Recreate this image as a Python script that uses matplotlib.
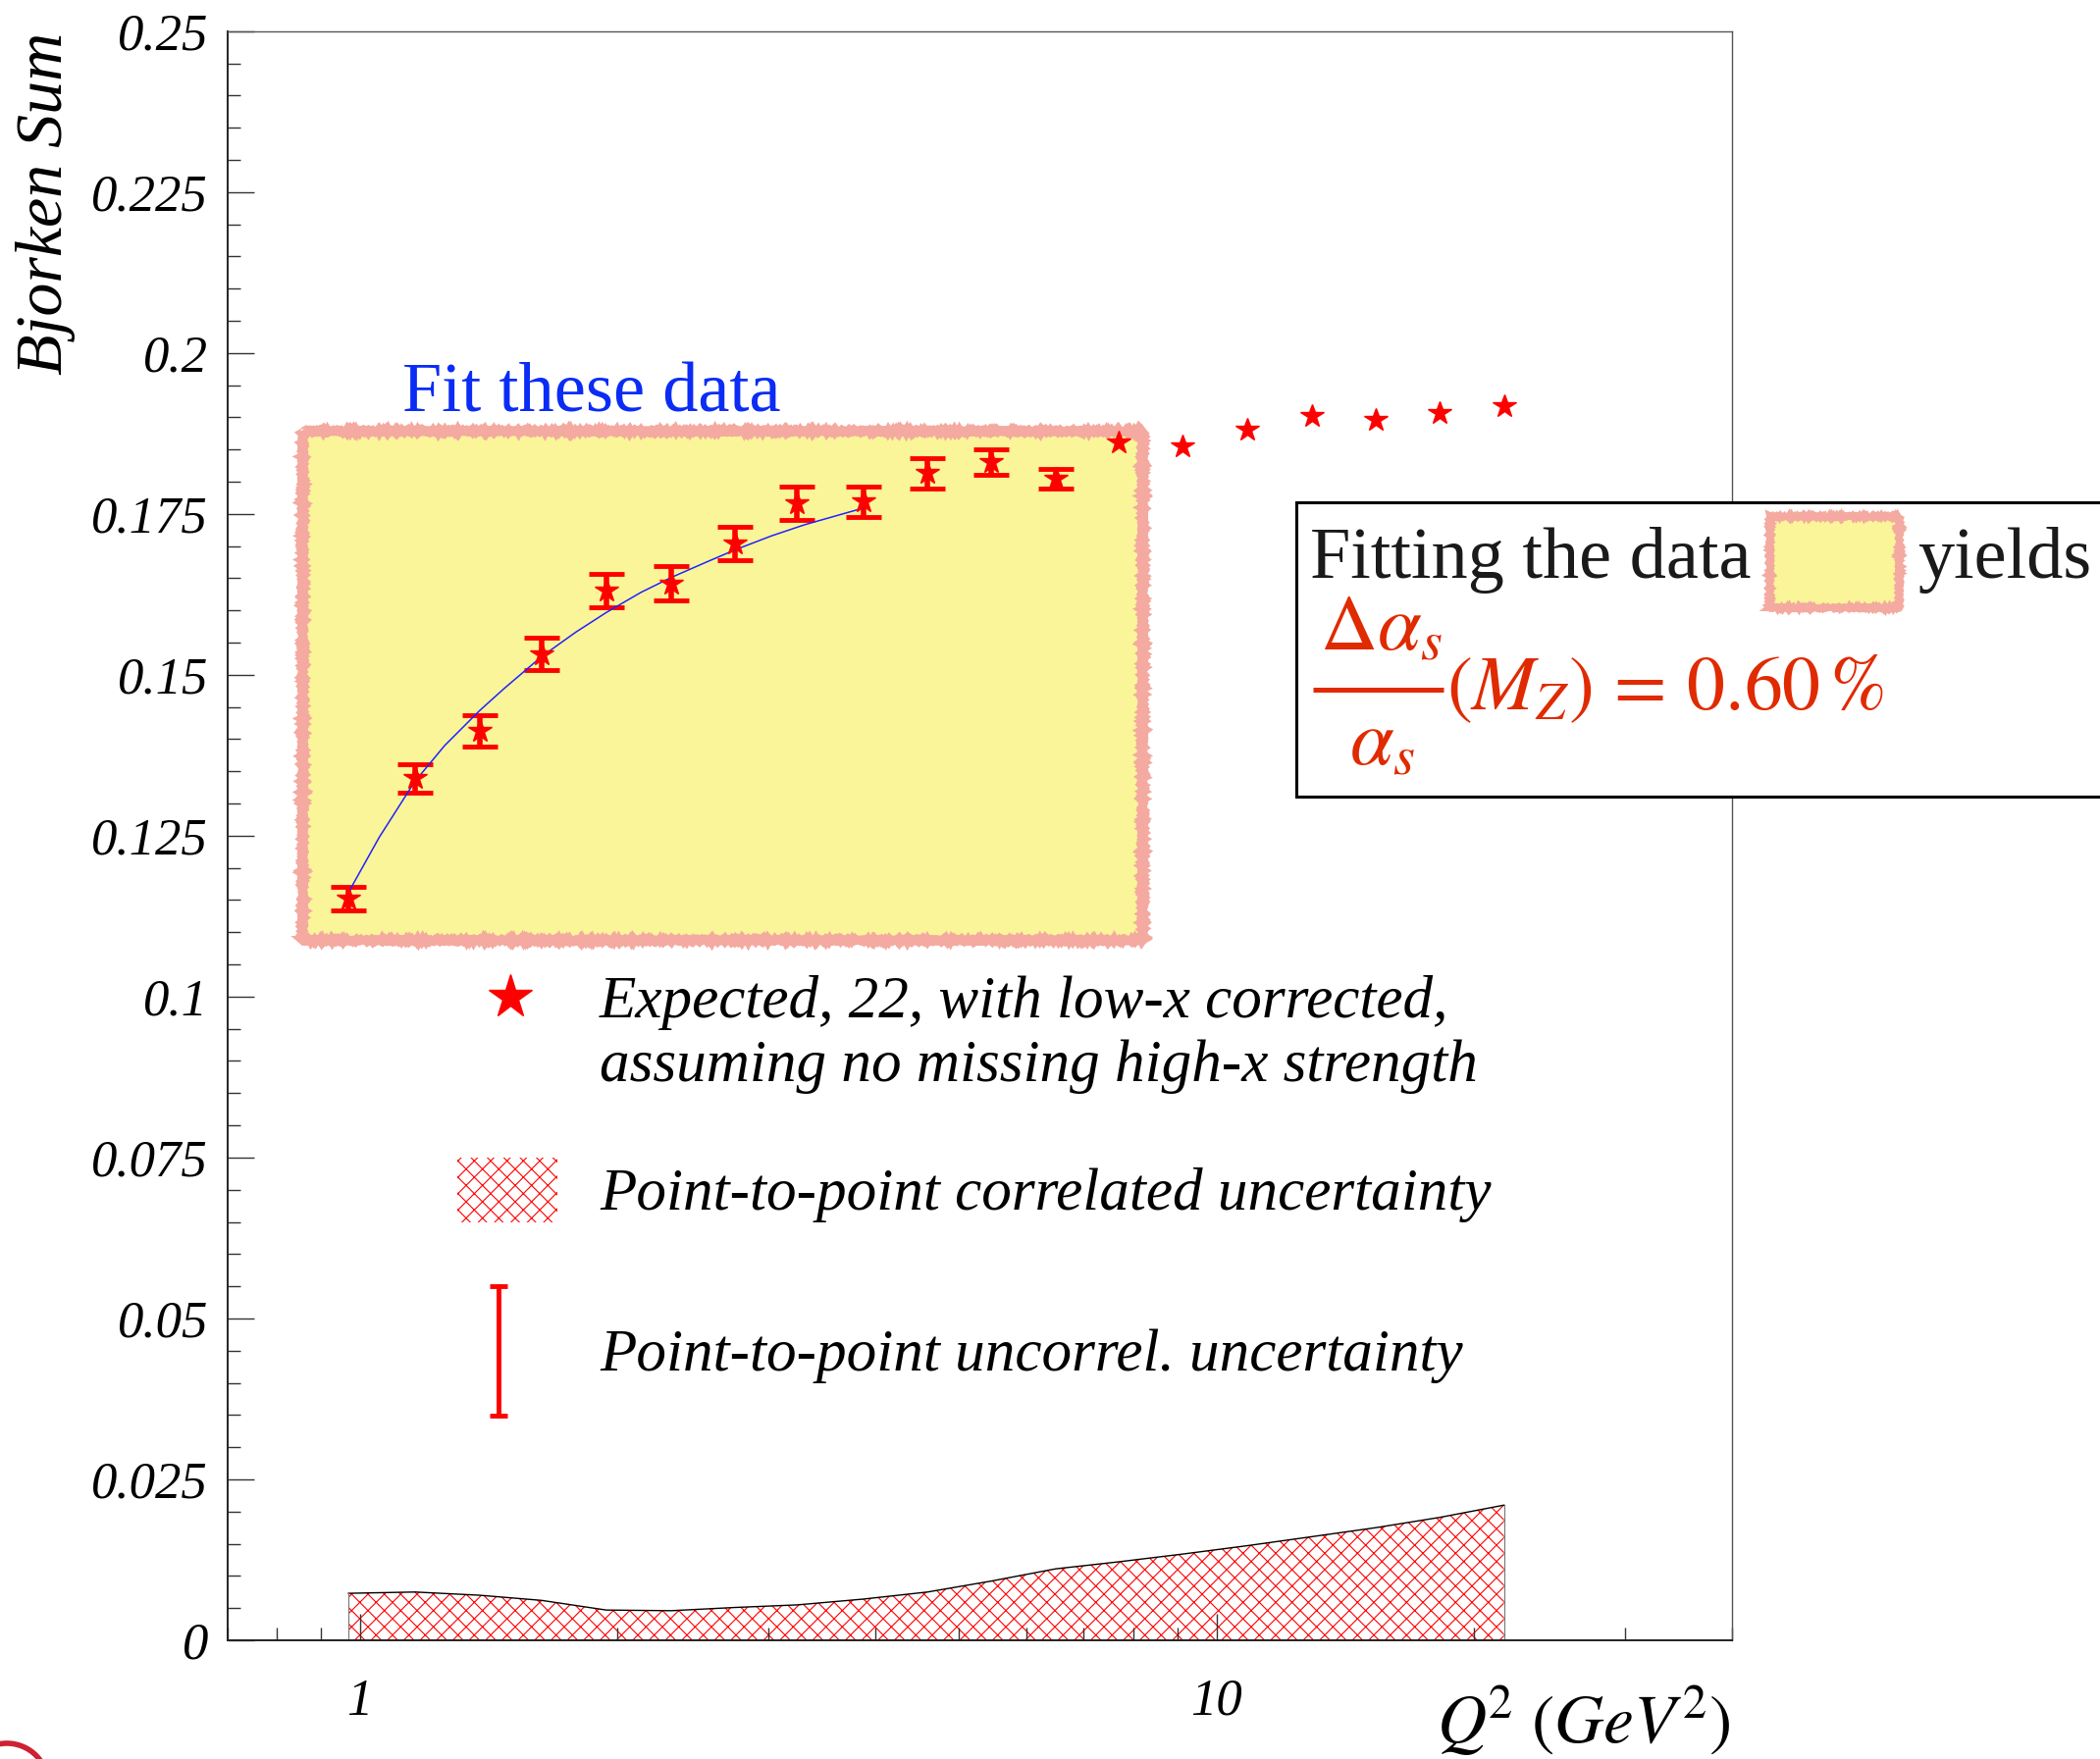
import numpy as np
import matplotlib
matplotlib.use('Agg')
import matplotlib.pyplot as plt
from matplotlib.patches import Rectangle, Arc
from matplotlib.lines import Line2D
from matplotlib.ticker import LogLocator, NullFormatter, FixedLocator

# Q^2 (GeV^2) and expected Bjorken sum
q2 = [0.97, 1.16, 1.38, 1.63, 1.94, 2.31, 2.74, 3.24, 3.87, 4.60, 5.46, 6.49,
      7.70, 9.14, 10.87, 12.93, 15.36, 18.24, 21.67]
bj_sum = [0.1152, 0.1339, 0.1413, 0.1532, 0.1631, 0.1642, 0.1704, 0.1767, 0.1769,
          0.1813, 0.1830, 0.1805, 0.1861, 0.1855, 0.1880, 0.1902, 0.1896, 0.1906, 0.1918]
# point-to-point uncorrelated errors (first 12 points only)
uncorr_err = [0.0018, 0.0022, 0.0024, 0.0025, 0.0026, 0.0027, 0.0026, 0.0026,
              0.0024, 0.0023, 0.0020, 0.0015]
# point-to-point correlated uncertainty band
corr_err = [0.0073, 0.0075, 0.0070, 0.0062, 0.0047, 0.0046, 0.0051, 0.0055, 0.0064,
            0.0075, 0.0092, 0.0111, 0.0122, 0.0134, 0.0147, 0.0161, 0.0175, 0.0191, 0.0210]
# fit curve
fit_q2 = [0.970, 1.054, 1.159, 1.256, 1.379, 1.472, 1.629, 1.786, 1.941, 2.129,
          2.308, 2.538, 2.741, 3.027, 3.304, 3.871]
fit_sum = [0.1162, 0.1248, 0.1334, 0.1390, 0.1444, 0.1478, 0.1528, 0.1566, 0.1597,
           0.1628, 0.1651, 0.1675, 0.1694, 0.1716, 0.1733, 0.1759]
# region of the fit
fit_box_q2 = [0.8575, 8.20]
fit_box_sum = [0.1088, 0.1879]

yticks = [0, 0.025, 0.05, 0.075, 0.1, 0.125, 0.15, 0.175, 0.2, 0.225, 0.25]
ytick_labels = ['0', '0.025', '0.05', '0.075', '0.1', '0.125', '0.15', '0.175', '0.2', '0.225', '0.25']
xticks = [1, 10]
xtick_labels = ['1', '10']

plt.rcParams['font.family'] = ['Liberation Serif', 'DejaVu Serif']
plt.rcParams['mathtext.fontset'] = 'stix'
plt.rcParams['hatch.linewidth'] = 0.8

W, H = 2140, 1793
fig = plt.figure(figsize=(W / 100, H / 100), dpi=100)


def P(x, y):
    # pixel position -> figure fraction
    return x / W, 1 - y / H


ax = fig.add_axes([231.5 / W, 1 - 1672 / H, (1765 - 231.5) / W, (1672 - 31.7) / H])
ax.set_xscale('log')
ax.set_xlim(0.7, 40)
ax.set_ylim(0, 0.25)

red = '#ff0000'
yellow = '#faf598'
salmon = '#f4aaa0'
formula_red = '#e02a00'

# fit region box
box = Rectangle((fit_box_q2[0], fit_box_sum[0]), fit_box_q2[1] - fit_box_q2[0],
                fit_box_sum[1] - fit_box_sum[0], facecolor=yellow, edgecolor=salmon,
                linewidth=6.5, zorder=0.5)
box.set_sketch_params(scale=1.0, length=3, randomness=2)
ax.add_patch(box)
ax.text(1.865, 0.19085, 'Fit these data', color='#0a2cf5', fontsize=52,
        ha='center', va='baseline')

# correlated band
ax.fill_between(q2, 0, corr_err, facecolor='white', edgecolor=red, hatch='xx',
                linewidth=0, zorder=1)
ax.plot(q2, corr_err, color='black', lw=1.0, zorder=1.5)
ax.plot([q2[0], q2[0]], [0, corr_err[0]], color='#777777', lw=0.8, zorder=1.5)
ax.plot([q2[-1], q2[-1]], [0, corr_err[-1]], color='#777777', lw=0.8, zorder=1.5)

# data
n_err = len(uncorr_err)
ax.errorbar(q2[:n_err], bj_sum[:n_err], yerr=uncorr_err, fmt='none', ecolor=red,
            elinewidth=4, capsize=13, capthick=3.5, zorder=3)
ax.plot(q2, bj_sum, linestyle='none', marker='*', ms=17.5, color=red, mec=red, zorder=4)

# fit curve
ax.plot(fit_q2, fit_sum, color='#2222ff', lw=1.1, zorder=3.5)

# axes styling
ax.yaxis.set_major_locator(FixedLocator(yticks))
ax.set_yticklabels(ytick_labels)
ax.yaxis.set_minor_locator(FixedLocator(np.arange(0, 0.2501, 0.005)))
ax.xaxis.set_major_locator(FixedLocator(xticks))
ax.set_xticklabels(xtick_labels)
ax.xaxis.set_minor_locator(LogLocator(base=10, subs=np.arange(2, 10) / 1.0, numticks=20))
ax.xaxis.set_minor_formatter(NullFormatter())
ax.tick_params(which='both', direction='in', top=False, right=False, color='#333333')
ax.tick_params(which='major', length=19.4, width=1.0)
ax.tick_params(which='minor', length=9.4, width=1.0)
ax.tick_params(axis='y', which='major', pad=14, labelsize=38)
ax.tick_params(axis='x', which='major', pad=28, labelsize=38)
for lab in ax.get_xticklabels() + ax.get_yticklabels():
    lab.set_fontstyle('italic')
for side in ['left', 'bottom']:
    ax.spines[side].set_linewidth(1.4)
    ax.spines[side].set_color('#222222')
for side in ['top', 'right']:
    ax.spines[side].set_linewidth(1.0)
    ax.spines[side].set_color('#555555')

fig.text(*P(46.7, 207), 'Bjorken Sum', rotation=90, fontsize=49, fontstyle='italic',
         ha='center', va='center')
fig.text(*P(1764, 1717), r'$Q^{\!2}\ (GeV^{2})$', fontsize=50, ha='right', va='top')

# legend inside the plot
ax.plot(*P(520, 1016), marker='*', ms=33, color=red, transform=fig.transFigure,
        clip_on=False, zorder=5)
fig.text(*P(611, 1036.7), 'Expected, 22, with low-x corrected,', fontsize=44,
         fontstyle='italic', va='baseline')
fig.text(*P(611, 1101.7), 'assuming no missing high-x strength', fontsize=44,
         fontstyle='italic', va='baseline')
leg_hatch = Rectangle(P(466, 1245.7), 102 / W, 65.7 / H, transform=fig.transFigure,
                      facecolor='white', edgecolor=red, hatch='xx', linewidth=0, zorder=5)
fig.patches.append(leg_hatch)
fig.text(*P(611, 1233.3), 'Point-to-point correlated uncertainty', fontsize=44,
         fontstyle='italic', va='baseline')
x0, y0 = P(507.7, 1311)
x1, y1 = P(507.7, 1443)
fig.add_artist(Line2D([x0, x1], [y0, y1], color=red, lw=3.5, transform=fig.transFigure))
fig.add_artist(Line2D([x0, x1], [y0, y1], color=red, lw=0, marker='_', ms=13, mew=3.5,
                      transform=fig.transFigure))
fig.text(*P(611, 1396.7), 'Point-to-point uncorrel. uncertainty', fontsize=44,
         fontstyle='italic', va='baseline')

# result box on the right
res_box = Rectangle(P(1321.4, 811.7), 1.0, (811.7 - 512) / H, transform=fig.transFigure,
                    facecolor='white', edgecolor='black', linewidth=2.2, zorder=5)
fig.patches.append(res_box)
fig.text(*P(1334.8, 589), 'Fitting the data', fontsize=53.5, color='#1a1a1a',
         va='baseline', zorder=6)
sw = Rectangle(P(1803.5, 619.3), (1934.7 - 1803.5) / W, (619.3 - 525.7) / H,
               transform=fig.transFigure, facecolor=yellow, edgecolor=salmon,
               linewidth=5, zorder=6)
sw.set_sketch_params(scale=1.0, length=3, randomness=2)
fig.patches.append(sw)
fig.text(*P(1954.5, 589), 'yields', fontsize=53.5, color='#1a1a1a', va='baseline', zorder=6)

# delta alpha_s / alpha_s (M_Z) = 0.60 %
fig.text(*P(1345, 662.7), r'$\Delta\alpha_s$', fontsize=58, color=formula_red,
         va='baseline', zorder=6)
fx0, fy = P(1337.5, 702.5)
fx1, _ = P(1471.4, 702.5)
fig.add_artist(Line2D([fx0, fx1], [fy, fy], color=formula_red, lw=3.6,
                      solid_capstyle='butt', transform=fig.transFigure, zorder=6))
fig.text(*P(1375, 780), r'$\alpha_s$', fontsize=58, color=formula_red,
         va='baseline', zorder=6)
fig.text(*P(1474, 723), r'$(M_Z)\,=\,0.60\,\%$', fontsize=56, color=formula_red,
         va='baseline', zorder=6)

# logo fragment at the bottom left
fig.patches.append(Arc((0.07, -0.26), 0.84, 0.84, theta1=0, theta2=180,
                       transform=fig.dpi_scale_trans, color='#cc2233', lw=4))

fig.savefig('out.png', dpi=100)
